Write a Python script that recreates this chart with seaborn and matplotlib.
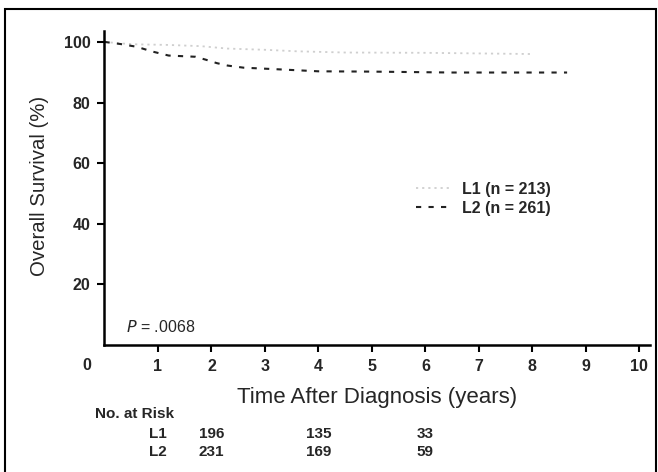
import matplotlib
matplotlib.use("Agg")
import matplotlib.pyplot as plt
from matplotlib.patches import Rectangle
import seaborn as sns
import pandas as pd

# Data
l1_time = [0, 0.3, 0.6, 1.2, 1.8, 2.3, 3.0, 3.6, 4.5, 6.0, 7.0, 8.0]
l1_surv = [100, 99.5, 99.2, 99.0, 98.6, 97.8, 97.4, 96.9, 96.5, 96.4, 96.2, 96.0]
l2_time = [0, 0.3, 0.6, 0.9, 1.2, 1.7, 1.9, 2.1, 2.3, 2.6, 3.2, 4.0, 5.0, 6.5, 8.65]
l2_surv = [100, 99.3, 98.4, 96.8, 95.5, 95.1, 94.1, 93.0, 92.2, 91.5, 91.0, 90.3, 90.2, 89.9, 89.9]
group_labels = ["L1 (n = 213)", "L2 (n = 261)"]
x_ticks = [1, 2, 3, 4, 5, 6, 7, 8, 9, 10]
y_ticks = [20, 40, 60, 80, 100]
risk_times = [2, 4, 6]
risk_rows = ["L1", "L2"]
risk_l1 = [196, 135, 33]
risk_l2 = [231, 169, 59]
p_text = ".0068"

sns.set_theme(style="ticks")
plt.rcParams["font.family"] = ["Liberation Sans", "DejaVu Sans"]

fig = plt.figure(figsize=(6.58, 4.72), dpi=100)
ax = fig.add_axes([104.5 / 658, 1 - 345 / 472, (650 - 104.5) / 658, (345 - 31) / 472])

df1 = pd.DataFrame({"t": l1_time, "s": l1_surv})
df2 = pd.DataFrame({"t": l2_time, "s": l2_surv})
sns.lineplot(data=df1, x="t", y="s", ax=ax, color="#cfcfcf", lw=1.3,
             linestyle=(0, (1.2, 2.2)), label=group_labels[0])
sns.lineplot(data=df2, x="t", y="s", ax=ax, color="#222222", lw=1.5,
             linestyle=(0, (2.5, 3.5)), label=group_labels[1])

ax.set_xlim(0, 10.2)
ax.set_ylim(0, 103.6)
ax.set_xticks(x_ticks)
ax.set_yticks(y_ticks)
ax.set_xticklabels([str(v) for v in x_ticks], fontsize=11.5, fontweight="bold")
ax.set_yticklabels([str(v) for v in y_ticks], fontsize=11.5, fontweight="bold")
ax.tick_params(axis="both", direction="out", length=5, width=1.5, color="black", pad=5)
for side in ["left", "bottom"]:
    ax.spines[side].set_linewidth(1.8)
    ax.spines[side].set_color("black")
sns.despine(ax=ax)
ax.set_xlabel("")
ax.set_ylabel("")

fig.text(377 / 658, 1 - 398 / 472, "Time After Diagnosis (years)", ha="center", va="center",
         fontsize=16)
fig.text(40 / 658, 1 - 186 / 472, "Overall Survival (%)", ha="center", va="center",
         rotation=90, fontsize=14.7)
fig.text(87 / 658, 1 - 366 / 472, "0", ha="center", va="center", fontsize=11.5, fontweight="bold")

ax.text(0.4, 6, "$P$ = " + p_text, fontsize=11.5, ha="left", va="center")

leg = ax.legend(loc="center left", bbox_to_anchor=(0.545, 0.465), frameon=False,
                fontsize=11.5, handlelength=2.2, handletextpad=0.7, labelspacing=0.25)
for t in leg.get_texts():
    t.set_fontweight("bold")

# Number at risk table
fig.text(95 / 658, 1 - 414 / 472, "No. at Risk", ha="left", va="center", fontsize=11,
         fontweight="bold")
row_y = [434, 452]
for row, vals, yy in zip(risk_rows, [risk_l1, risk_l2], row_y):
    fig.text(167 / 658, 1 - yy / 472, row, ha="right", va="center", fontsize=11, fontweight="bold")
    for t, v in zip(risk_times, vals):
        xf = ax.transData.transform((t, 0))[0] / fig.bbox.width
        fig.text(xf, 1 - yy / 472, str(v), ha="center", va="center", fontsize=11,
                 fontweight="bold")

fig.add_artist(Rectangle((5 / 658, -0.05), (656 - 5) / 658, 1.05 - 9 / 472,
                         transform=fig.transFigure, fill=False, lw=1.5, edgecolor="black"))

fig.savefig("out.png", dpi=100)
